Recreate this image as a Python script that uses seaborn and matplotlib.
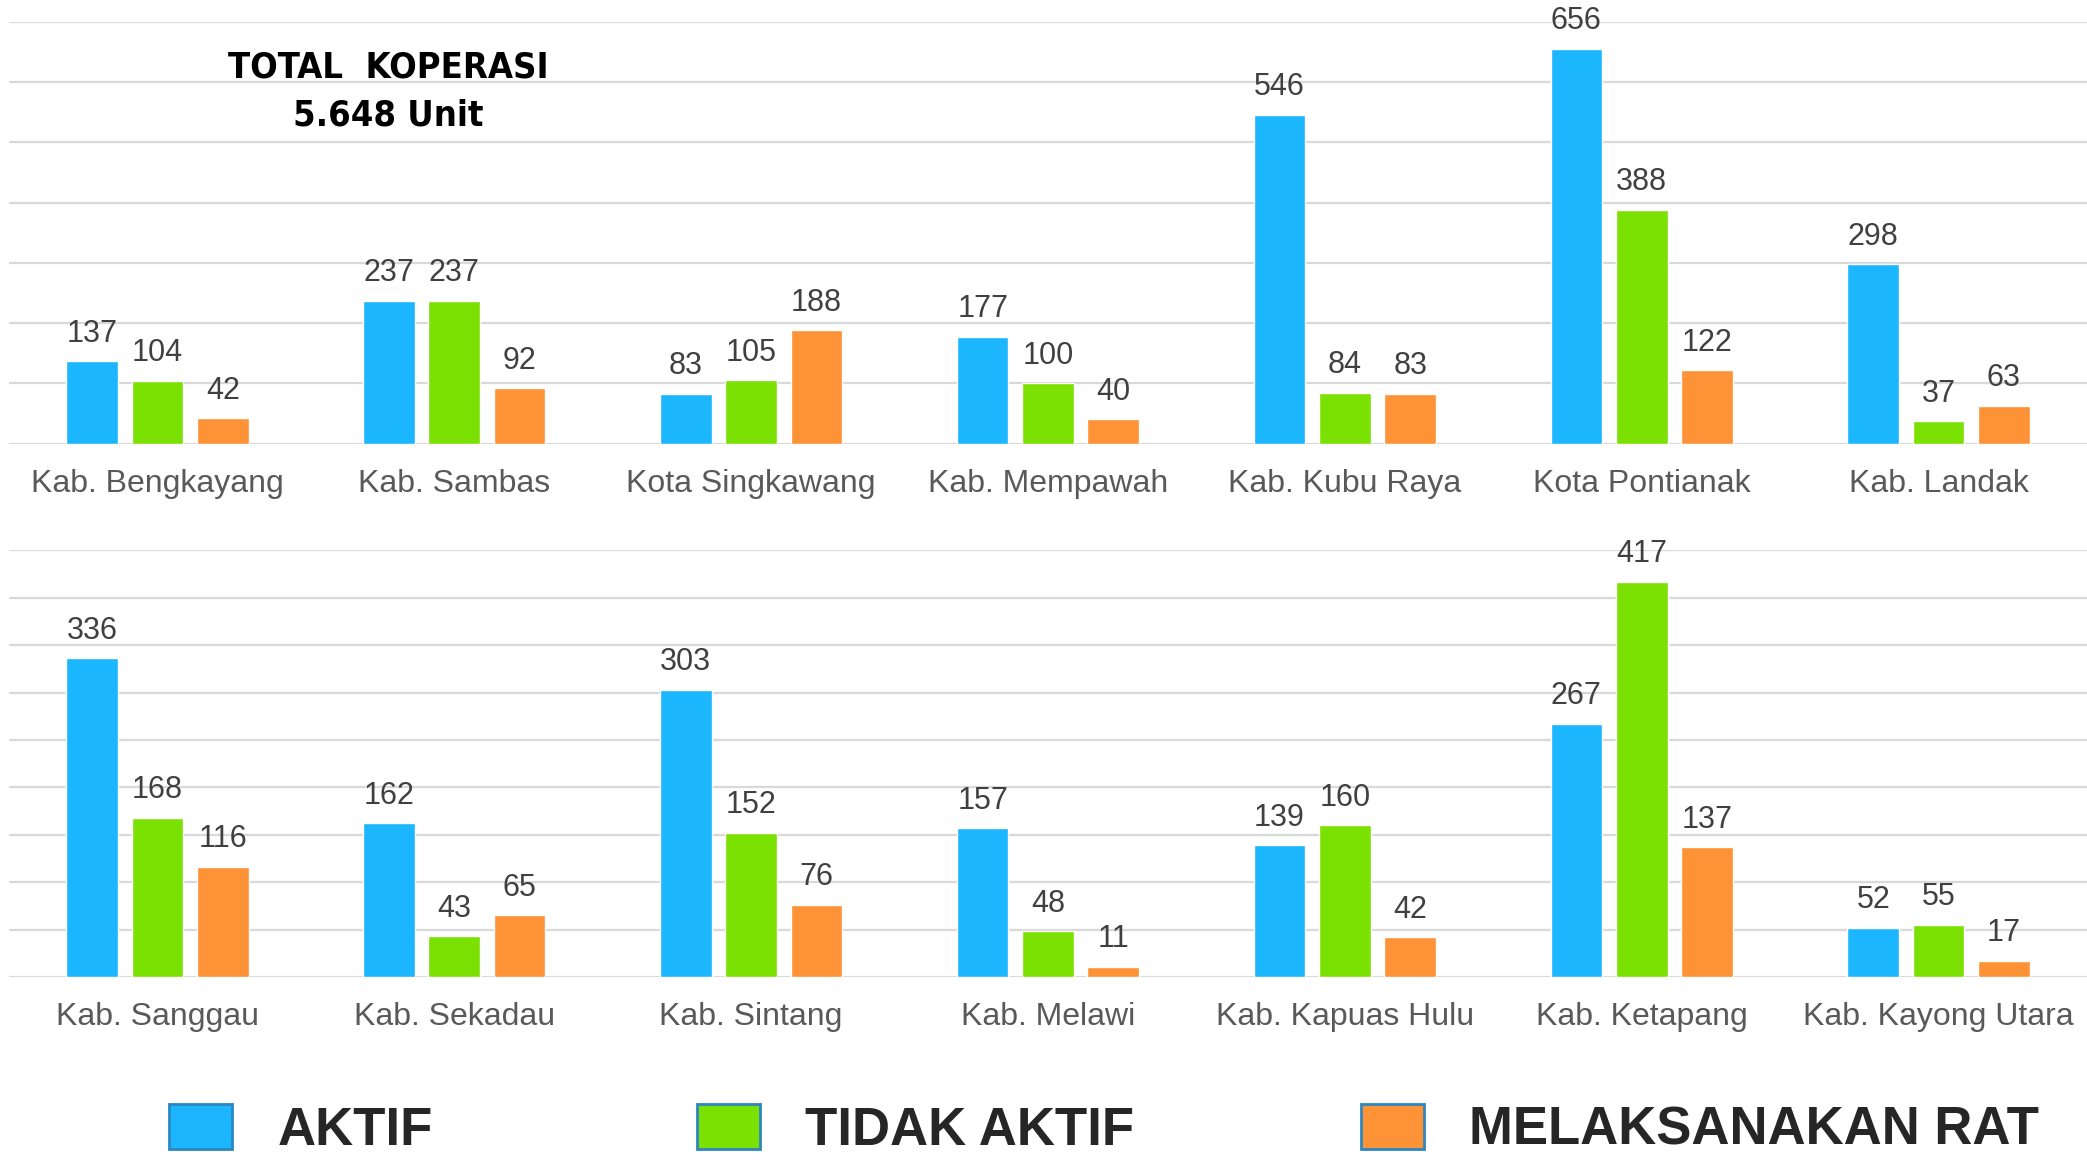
import pandas as pd
import seaborn as sns
import matplotlib.pyplot as plt
import matplotlib.ticker as ticker
from matplotlib.patches import Patch
from matplotlib import font_manager

# data
status = ['AKTIF', 'TIDAK AKTIF', 'MELAKSANAKAN RAT']
colors = ['#1BB6FD', '#7BE102', '#FD9236']

wilayah_atas = ['Kab. Bengkayang', 'Kab. Sambas', 'Kota Singkawang', 'Kab. Mempawah',
                'Kab. Kubu Raya', 'Kota Pontianak', 'Kab. Landak']
aktif_atas = [137, 237, 83, 177, 546, 656, 298]
tidak_aktif_atas = [104, 237, 105, 100, 84, 388, 37]
rat_atas = [42, 92, 188, 40, 83, 122, 63]

wilayah_bawah = ['Kab. Sanggau', 'Kab. Sekadau', 'Kab. Sintang', 'Kab. Melawi',
                 'Kab. Kapuas Hulu', 'Kab. Ketapang', 'Kab. Kayong Utara']
aktif_bawah = [336, 162, 303, 157, 139, 267, 52]
tidak_aktif_bawah = [168, 43, 152, 48, 160, 417, 55]
rat_bawah = [116, 65, 76, 11, 42, 137, 17]

title_text = 'TOTAL  KOPERASI\n5.648 Unit'


def to_long(wilayah, aktif, tidak, rat):
    df = pd.DataFrame({'wilayah': wilayah, status[0]: aktif, status[1]: tidak, status[2]: rat})
    return df.melt(id_vars='wilayah', var_name='status', value_name='jumlah')


# the title uses a narrow bold face; take a condensed one if there is one
title_font = {'family': 'DejaVu Sans', 'size': 24}
names = {(f.name, f.stretch) for f in font_manager.fontManager.ttflist}
if ('DejaVu Sans', 'condensed') in names or ('DejaVu Sans', 'semi-condensed') in names:
    title_font = {'family': 'DejaVu Sans', 'stretch': 'condensed', 'size': 26}
elif any(n == 'Liberation Sans Narrow' for n, _ in names):
    title_font = {'family': 'Liberation Sans Narrow', 'size': 29}

sns.set_style('white')
plt.rcParams['font.family'] = ['Liberation Sans', 'DejaVu Sans']

fig = plt.figure(figsize=(20.87, 11.61), dpi=100)
ax_top = fig.add_axes([0.0043, 0.618, 0.9957, 0.363])
ax_bot = fig.add_axes([0.0043, 0.1585, 0.9957, 0.3675])

panels = [
    (ax_top, to_long(wilayah_atas, aktif_atas, tidak_aktif_atas, rat_atas), wilayah_atas, 700, 100),
    (ax_bot, to_long(wilayah_bawah, aktif_bawah, tidak_aktif_bawah, rat_bawah), wilayah_bawah, 450, 50),
]

for ax, df, order, ymax, step in panels:
    sns.barplot(data=df, x='wilayah', y='jumlah', hue='status', order=order, hue_order=status,
                palette=colors, saturation=1, width=0.66, gap=0.21, legend=False, ax=ax)
    for cont in ax.containers:
        ax.bar_label(cont, padding=9, fontsize=22, color='#404040')
    ax.set_xlim(-0.5, len(order) - 0.5)
    ax.set_ylim(0, ymax)
    ax.yaxis.set_major_locator(ticker.MultipleLocator(step))
    ax.yaxis.grid(True, color='#D9D9D9', linewidth=1.6)
    ax.set_axisbelow(True)
    for s in ax.spines.values():
        s.set_visible(False)
    ax.tick_params(axis='y', left=False, labelleft=False)
    ax.tick_params(axis='x', length=0, pad=18, labelsize=23, labelcolor='#595959')
    ax.set_xlabel('')
    ax.set_ylabel('')
    ax.patch.set_alpha(0)

fig.text(0.186, 0.921, title_text, ha='center', va='center', multialignment='center',
         fontweight='bold', color='black', linespacing=1.5, **title_font)

# legend, three separate entries like the original
legend_x = [0.081, 0.334, 0.652]
for name, col, x in zip(status, colors, legend_x):
    h = Patch(facecolor=col, edgecolor='#2E86C1', linewidth=2)
    fig.legend(handles=[h], labels=[name], loc='center left', bbox_to_anchor=(x, 0.027),
               frameon=False, borderpad=0, borderaxespad=0, handlelength=1.2, handleheight=0.95,
               handletextpad=0.85, prop={'family': 'Liberation Sans', 'weight': 'bold', 'size': 38},
               labelcolor='#262626')

fig.savefig('out.png', dpi=100)
